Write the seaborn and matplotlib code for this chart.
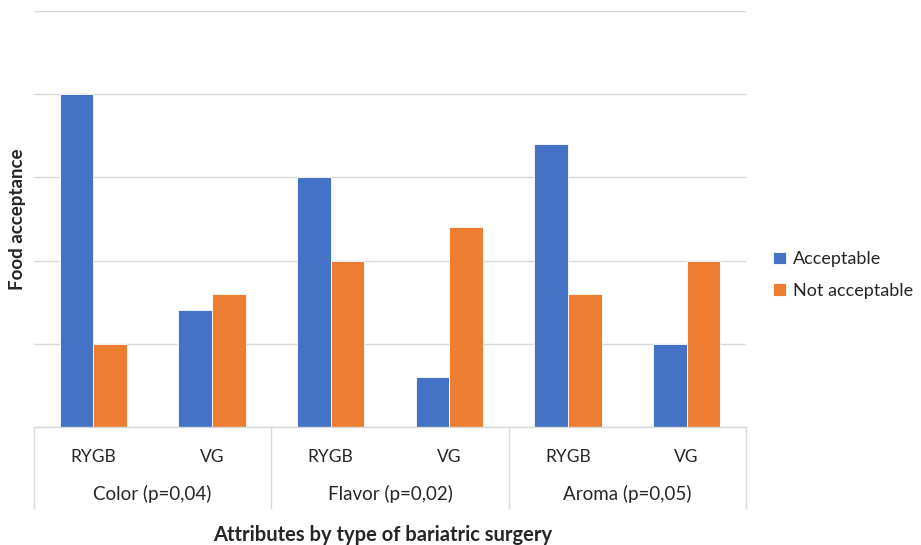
import matplotlib
matplotlib.use("Agg")
import matplotlib.pyplot as plt
import matplotlib.transforms as mtransforms
import seaborn as sns
import pandas as pd

# Data (gridlines every 5 units, no tick labels shown)
attributes = ['Color (p=0,04)', 'Flavor (p=0,02)', 'Aroma (p=0,05)']
surgeries = ['RYGB', 'VG']
acceptable = [20, 7, 15, 3, 17, 5]
not_acceptable = [5, 8, 10, 12, 8, 10]
series_names = ['Acceptable', 'Not acceptable']

rows = []
i = 0
for a in attributes:
    for s in surgeries:
        rows.append({'slot': i, 'Acceptance': series_names[0], 'value': acceptable[i]})
        rows.append({'slot': i, 'Acceptance': series_names[1], 'value': not_acceptable[i]})
        i += 1
df = pd.DataFrame(rows)

sns.set_style('white')
plt.rcParams['font.family'] = ['Lato', 'DejaVu Sans']

fig = plt.figure(figsize=(9.21, 5.45), dpi=100)
W, H = 921, 545
ax = fig.add_axes([34 / W, (H - 426.7) / H, (746 - 34) / W, (426.7 - 11.3) / H])

sns.barplot(data=df, x='slot', y='value', hue='Acceptance', hue_order=series_names,
            palette=['#4472C4', '#ED7D31'], saturation=1, width=0.57, ax=ax,
            edgecolor='white', linewidth=0.6, errorbar=None)

ax.set_ylim(0, 25)
ax.set_xlim(-0.5, 5.5)
ax.set_yticks([0, 5, 10, 15, 20, 25])
ax.set_yticklabels([])
ax.tick_params(axis='y', length=0)
ax.yaxis.grid(True, color='#D9D9D9', linewidth=1)
ax.set_axisbelow(True)
for side in ['left', 'right', 'top']:
    ax.spines[side].set_visible(False)
ax.spines['bottom'].set_color('#D9D9D9')
ax.spines['bottom'].set_linewidth(1)

# sub-category labels
ax.set_xticks(range(6))
ax.set_xticklabels(surgeries * 3, fontsize=12.5)
ax.tick_params(axis='x', length=0, pad=16)
ax.set_xlabel('')
ax.set_ylabel('Food acceptance', fontsize=13.5, fontweight='bold', labelpad=2)

# group labels and separators
trans = mtransforms.blended_transform_factory(ax.transData, ax.transAxes)
for g, name in enumerate(attributes):
    ax.text(g * 2 + 0.5, -0.163, name, transform=trans, ha='center', va='center', fontsize=13.5)
for xs in [-0.5, 1.5, 3.5, 5.5]:
    ax.plot([xs, xs], [0, -0.195], transform=trans, color='#D9D9D9', linewidth=1, clip_on=False)

fig.text(383 / W, 1 - 535 / H, 'Attributes by type of bariatric surgery',
         ha='center', va='center', fontsize=14.5, fontweight='bold')

leg = ax.legend(loc='center left', bbox_to_anchor=(757 / W, 1 - 275 / H),
                bbox_transform=fig.transFigure, frameon=False, fontsize=13,
                handlelength=0.7, handleheight=0.7, handletextpad=0.4, labelspacing=0.85)

fig.savefig('out.png', dpi=100)
